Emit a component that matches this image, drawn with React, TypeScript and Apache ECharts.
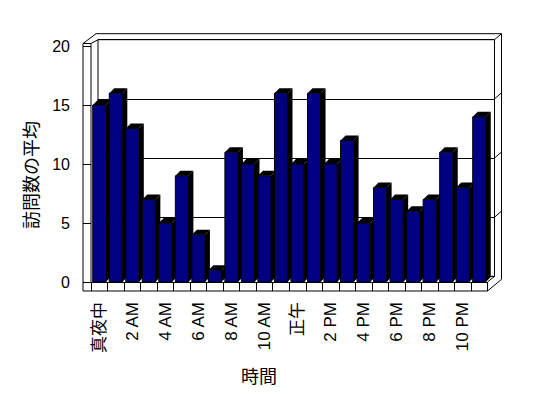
import React, { useEffect, useRef } from "react";
import * as echarts from "echarts";

const categories = [
  "真夜中", "1 AM", "2 AM", "3 AM", "4 AM", "5 AM", "6 AM", "7 AM", "8 AM", "9 AM", "10 AM", "11 AM",
  "正午", "1 PM", "2 PM", "3 PM", "4 PM", "5 PM", "6 PM", "7 PM", "8 PM", "9 PM", "10 PM", "11 PM",
];
const visits = [15, 16, 13, 7, 5, 9, 4, 1, 11, 10, 9, 16, 10, 16, 10, 12, 5, 8, 7, 6, 7, 11, 8, 14];
const yMax = 20;
const yStep = 5;
const yTitle = "訪問数の平均";
const xTitle = "時間";

export default function App() {
  const ref = useRef<HTMLDivElement>(null);

  useEffect(() => {
    if (!ref.current) return;
    const chart = echarts.init(ref.current, null, { renderer: "svg" });

    // layout of the pseudo-3D box
    const FL = 91, FR = 487.5, FT = 46, FB = 282; // front plane (bars)
    const BL = 98, BR = 494.5, BT = 39.7, BB = 276.3; // back wall inner
    const OL = 83, OB = 291, OR = 501.5, OT = 33.7, LT = 43.5; // outer slab edges
    const D = 5; // bar depth
    const font = "'Liberation Sans', 'Noto Sans CJK JP', sans-serif";
    const yBack = (v: number) => BT + (BB - BT) * (1 - v / yMax);
    const line = (pts: number[][]) => ({
      type: "polyline",
      silent: true,
      shape: { points: pts },
      style: { stroke: "#000", lineWidth: 1, fill: null },
    });

    const wallLines: any[] = [
      // left wall front face + floor front face
      line([[FL, FB], [FL, LT], [OL, LT], [OL, OB], [FR, OB], [FR, FB]]),
      // top slab
      line([[OL, LT], [BL - 2, OT], [OR, OT]]),
      line([[FL, LT], [BL, BT], [BR, BT], [OR, OT]]),
      // right wall
      line([[OR, OT], [OR, BB + 3], [FR, OB]]),
      line([[BR, BT], [BR, BB]]),
      line([[FR, FB], [BR, BB]]),
      // back wall left edge + floor back edge
      line([[BL, BT], [BL, BB], [BR, BB]]),
    ];
    for (let v = yStep; v < yMax; v += yStep) {
      const y = yBack(v);
      wallLines.push(line([[BR, y], [OR, y - 6]]));
    }

    chart.setOption({
      animation: false,
      backgroundColor: "#fff",
      textStyle: { fontFamily: font, color: "#000" },
      grid: [
        { left: FL, top: FT, width: FR - FL, height: FB - FT },
        { left: BL, top: BT, width: BR - BL, height: BB - BT },
      ],
      xAxis: [
        {
          type: "category",
          gridIndex: 0,
          data: categories,
          boundaryGap: true,
          axisLine: { show: true, lineStyle: { color: "#000", width: 1 } },
          axisTick: { show: true, interval: 0, length: 9, alignWithLabel: false, lineStyle: { color: "#000" } },
          axisLabel: {
            interval: 1,
            rotate: 90,
            margin: 20,
            fontSize: 17,
            color: "#000",
            fontFamily: font,
          },
          splitLine: { show: false },
        },
        {
          type: "category",
          gridIndex: 1,
          data: categories,
          show: false,
        },
      ],
      yAxis: [
        {
          type: "value",
          gridIndex: 0,
          min: 0,
          max: yMax,
          interval: yStep,
          axisLine: { show: false },
          axisTick: { show: true, length: 8, lineStyle: { color: "#000" } },
          axisLabel: { margin: 21, fontSize: 16, color: "#000", fontFamily: font },
          splitLine: { show: false },
        },
        {
          type: "value",
          gridIndex: 1,
          min: 0,
          max: yMax,
          interval: yStep,
          axisLine: { show: false },
          axisTick: { show: false },
          axisLabel: { show: false },
          splitLine: { show: true, lineStyle: { color: "#000", width: 1 } },
        },
      ],
      graphic: [
        ...wallLines,
        {
          type: "text",
          x: 32,
          y: 175,
          rotation: Math.PI / 2,
          silent: true,
          style: {
            text: yTitle,
            fontSize: 18,
            fontFamily: font,
            fill: "#000",
            align: "center",
            verticalAlign: "middle",
          },
        },
        {
          type: "text",
          x: 259,
          y: 377,
          silent: true,
          style: {
            text: xTitle,
            fontSize: 18,
            fontFamily: font,
            fill: "#000",
            align: "center",
            verticalAlign: "middle",
          },
        },
      ],
      series: [
        {
          type: "custom",
          xAxisIndex: 0,
          yAxisIndex: 0,
          z: 5,
          data: visits.map((v, i) => [i, v]),
          encode: { x: 0, y: 1 },
          renderItem: (params: any, api: any) => {
            const i = api.value(0);
            const v = api.value(1);
            const top = api.coord([i, v]);
            const base = api.coord([i, 0]);
            const bw = api.size([1, 0])[0] * 0.79;
            const x0 = top[0] - bw / 2;
            const x1 = top[0] + bw / 2;
            const yt = top[1];
            const yb = base[1];
            return {
              type: "group",
              children: [
                {
                  type: "polygon",
                  shape: { points: [[x1, yt], [x1 + D, yt - D], [x1 + D, yb - D], [x1, yb]] },
                  style: { fill: "#000" },
                },
                {
                  type: "polygon",
                  shape: { points: [[x0, yt], [x1, yt], [x1 + D, yt - D], [x0 + D, yt - D]] },
                  style: { fill: "#000" },
                },
                {
                  type: "rect",
                  shape: { x: x0, y: yt, width: bw, height: yb - yt },
                  style: { fill: "#000080", stroke: "#000", lineWidth: 1 },
                },
              ],
            };
          },
        },
      ],
    });

    return () => chart.dispose();
  }, []);

  return (
    <div
      ref={ref}
      style={{ position: "fixed", left: 0, top: 0, width: 548, height: 398, background: "#fff" }}
    />
  );
}
